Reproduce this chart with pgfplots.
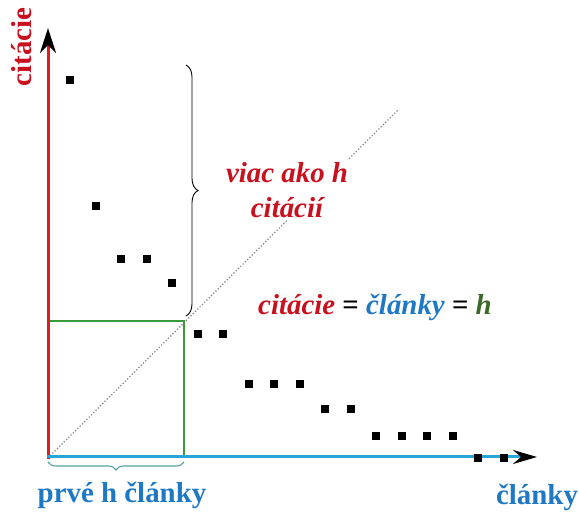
\documentclass[border=0pt]{standalone}
\usepackage{pgfplots}
\pgfplotsset{compat=1.18}
\usepackage{fontspec}
\setmainfont{Liberation Serif}
\usetikzlibrary{arrows.meta,decorations.pathreplacing}
\definecolor{axred}{RGB}{220,30,35}
\definecolor{txtred}{RGB}{200,16,30}
\definecolor{axblue}{RGB}{40,165,215}
\definecolor{txtblue}{RGB}{30,120,195}
\definecolor{sqgreen}{RGB}{55,155,55}
\definecolor{hgreen}{RGB}{60,105,40}
\definecolor{teal2}{RGB}{85,160,160}
\begin{document}
\begin{tikzpicture}
\begin{axis}[
  x=1bp, y=1bp,
  xmin=-48, xmax=531, ymin=-54, ymax=458,
  hide axis, clip=false,
]
\coordinate (bl) at (axis cs:-48,-54);
\coordinate (tr) at (axis cs:531,458);
% green square
\addplot[sqgreen, line width=2bp, mark=none] coordinates {(0,137) (136,137) (136,0)};
\addplot[sqgreen, line width=2bp, mark=none] coordinates {(0,0) (0,137)};
% diagonal
\addplot[gray, dotted, line width=1.2bp, mark=none] coordinates {(0,0) (350,348)};
% axes
\addplot[axred, line width=3bp, mark=none, -{Stealth[length=25bp, width=16bp, inset=8bp, black]}] coordinates {(0,-1.5) (0,430)};
\addplot[axblue, line width=3bp, mark=none, -{Stealth[length=24bp, width=14bp, inset=8bp, black]}] coordinates {(-1.5,1) (489,1)};
% data points
\addplot[only marks, mark=square*, mark size=3.4bp, black] coordinates {
(22,378) (47.5,252) (73,199) (98.5,199) (124,175) (149.5,124) (175,124)
(200.5,74) (226,74) (251.5,74) (277,49) (302.5,49) (328,22) (353.5,22)
(379,22) (404.5,22) (430,0) (455.5,0)};
% braces
\draw[black, line width=0.9bp, decorate, decoration={brace, amplitude=12bp}] (axis cs:138,393) -- (axis cs:138,142);
\draw[teal2, line width=1.1bp, decorate, decoration={brace, amplitude=8bp}] (axis cs:136,-4) -- (axis cs:0,-4);
% labels
\node[rotate=90, text=txtred, font=\fontsize{29}{34}\selectfont\bfseries] at (axis cs:-26,411) {citácie};
\node[text=txtblue, font=\fontsize{29}{34}\selectfont\bfseries] at (axis cs:74,-37) {prvé h články};
\node[text=txtblue, font=\fontsize{29}{34}\selectfont\bfseries] at (axis cs:489,-39) {články};
\node[fill=white, inner sep=2bp, text=txtred, align=center, font=\fontsize{29}{35}\selectfont\bfseries\itshape] at (axis cs:239,268) {viac ako h\\citácií};
\node[font=\fontsize{29}{34}\selectfont\bfseries] at (axis cs:327,151) {\textcolor{txtred}{\itshape citácie} = \textcolor{txtblue}{\itshape články} = \textcolor{hgreen}{\itshape h}};
\end{axis}
\pgfresetboundingbox
\path (bl) rectangle (tr);
\end{tikzpicture}
\end{document}
